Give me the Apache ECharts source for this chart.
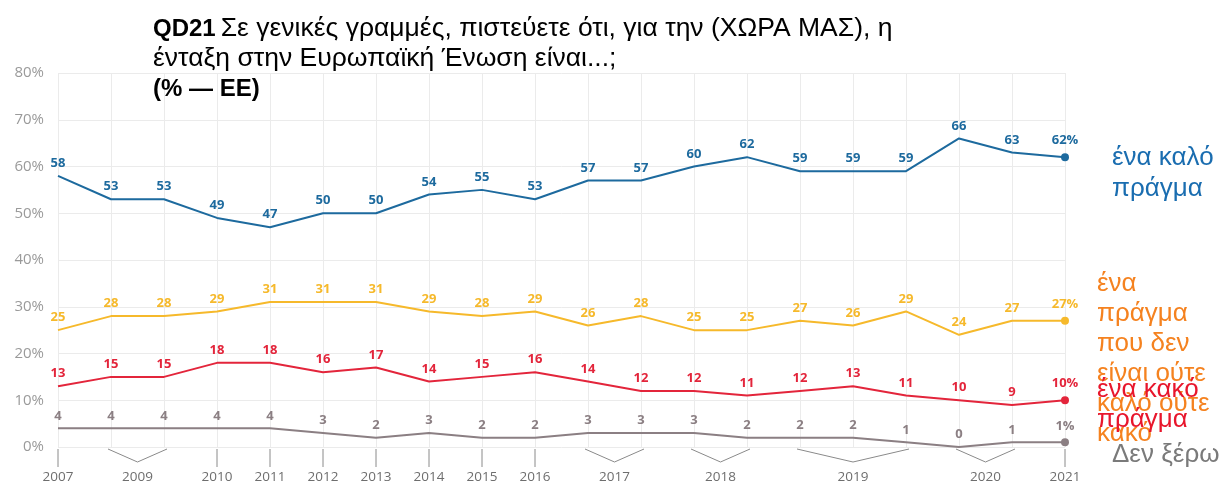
<!DOCTYPE html>
<html>
<head>
<meta charset="utf-8">
<script src="https://cdn.jsdelivr.net/npm/echarts@6/dist/echarts.min.js"></script>
<style>
  html, body { margin: 0; padding: 0; background: #fff; }
  #chart { width: 1224px; height: 483px; }
</style>
</head>
<body>
<div id="chart"></div>
<script>
// survey waves (x categories)
var waves = ['2007', '2009a', '2009b', '2010', '2011', '2012', '2013', '2014', '2015', '2016',
    '2017a', '2017b', '2018a', '2018b', '2019a', '2019b', '2019c', '2020a', '2020b', '2021'];
// year labels under the axis: [first wave, last wave, label]
var yearGroups = [[0, 0, '2007'], [1, 2, '2009'], [3, 3, '2010'], [4, 4, '2011'], [5, 5, '2012'],
    [6, 6, '2013'], [7, 7, '2014'], [8, 8, '2015'], [9, 9, '2016'], [10, 11, '2017'],
    [12, 13, '2018'], [14, 16, '2019'], [17, 18, '2020'], [19, 19, '2021']];

var good = [58, 53, 53, 49, 47, 50, 50, 54, 55, 53, 57, 57, 60, 62, 59, 59, 59, 66, 63, 62];
var neither = [25, 28, 28, 29, 31, 31, 31, 29, 28, 29, 26, 28, 25, 25, 27, 26, 29, 24, 27, 27];
var bad = [13, 15, 15, 18, 18, 16, 17, 14, 15, 16, 14, 12, 12, 11, 12, 13, 11, 10, 9, 10];
var dk = [4, 4, 4, 4, 4, 3, 2, 3, 2, 2, 3, 3, 3, 2, 2, 2, 1, 0, 1, 1];

var blue = '#1d6a9e';
var yellow = '#f6b92b';
var red = '#e3253b';
var grey = '#8b7f83';

var last = waves.length - 1;

function mkLine(name, data, color) {
    return {
        name: name,
        type: 'line',
        data: data,
        showSymbol: true,
        showAllSymbol: true,
        symbol: 'circle',
        symbolSize: function (v, p) { return p.dataIndex === last ? 8 : 0; },
        itemStyle: { color: color },
        lineStyle: { color: color, width: 2 },
        label: {
            show: true,
            position: 'top',
            distance: 6,
            color: color,
            fontFamily: 'Open Sans',
            fontWeight: 'bold',
            fontSize: 13,
            formatter: function (p) { return p.dataIndex === last ? p.value + '%' : p.value; }
        },
        z: 3
    };
}

var option = {
    animation: false,
    title: {
        left: 153,
        top: 14,
        padding: 0,
        text: '{b|QD21} {n|Σε γενικές γραμμές, πιστεύετε ότι, για την (ΧΩΡΑ ΜΑΣ), η}\n{n|ένταξη στην Ευρωπαϊκή Ένωση είναι...;}\n{b|(% — ΕΕ)}',
        textStyle: {
            fontWeight: 'normal',
            rich: {
                b: { fontFamily: 'Liberation Sans', fontWeight: 'bold', fontSize: 24, color: '#000', lineHeight: 30 },
                n: { fontFamily: 'Liberation Sans', fontWeight: 'normal', fontSize: 26.5, color: '#000', lineHeight: 30 }
            }
        }
    },
    grid: { left: 58, right: 159, top: 73, bottom: 36 },
    xAxis: {
        type: 'category',
        data: waves,
        boundaryGap: false,
        axisLine: { show: false },
        axisTick: { show: false },
        axisLabel: { show: false },
        splitLine: { show: true, lineStyle: { color: '#ebebeb', width: 1 } }
    },
    yAxis: {
        type: 'value',
        min: 0,
        max: 80,
        interval: 10,
        axisLine: { show: false },
        axisTick: { show: false },
        axisLabel: {
            formatter: '{value}%',
            color: '#9a9a9a',
            fontFamily: 'Open Sans',
            fontSize: 15,
            margin: 14
        },
        splitLine: { lineStyle: { color: '#ebebeb', width: 1 } }
    },
    series: [
        mkLine('ένα καλό πράγμα', good, blue),
        mkLine('ούτε καλό ούτε κακό', neither, yellow),
        mkLine('ένα κακό πράγμα', bad, red),
        mkLine('Δεν ξέρω', dk, grey),
        {
            type: 'custom',
            data: yearGroups,
            clip: false,
            silent: true,
            encode: { x: 0 },
            renderItem: function (params, api) {
                var g = yearGroups[params.dataIndex];
                var p0 = api.coord([g[0], 0]);
                var p1 = api.coord([g[1], 0]);
                var y = p0[1];
                var mid = (p0[0] + p1[0]) / 2;
                var mark;
                if (g[0] === g[1]) {
                    mark = { type: 'line', shape: { x1: mid, y1: y + 2, x2: mid, y2: y + 20 },
                        style: { stroke: '#8a8a8a', lineWidth: 1 } };
                } else {
                    mark = { type: 'polyline', shape: { points: [[p0[0] - 3, y + 2], [mid, y + 15], [p1[0] + 3, y + 2]] },
                        style: { stroke: '#8a8a8a', lineWidth: 1, fill: null } };
                }
                return {
                    type: 'group',
                    children: [mark, {
                        type: 'text',
                        style: {
                            text: g[2], x: mid, y: y + 30, align: 'center', verticalAlign: 'middle',
                            fill: '#6e6e6e', fontFamily: 'Open Sans', fontSize: 13.5
                        }
                    }]
                };
            }
        }
    ],
    graphic: [
        { type: 'text', left: 1112, top: 142, style: { text: 'ένα καλό\nπράγμα', fill: '#1a6db0', fontFamily: 'Liberation Sans', fontSize: 26, lineHeight: 31 } },
        { type: 'text', left: 1097, top: 269, style: { text: 'ένα\nπράγμα\nπου δεν\nείναι ούτε\nκαλό ούτε\nκακό', fill: '#f5821f', fontFamily: 'Liberation Sans', fontSize: 26, lineHeight: 30 } },
        { type: 'text', left: 1097, top: 375, style: { text: 'ένα κακό\nπράγμα', fill: '#e8162c', fontFamily: 'Liberation Sans', fontSize: 26, lineHeight: 30 } },
        { type: 'text', left: 1112, top: 440, style: { text: 'Δεν ξέρω', fill: '#7a7a7a', fontFamily: 'Liberation Sans', fontSize: 26, lineHeight: 30 } }
    ]
};

var myChart = echarts.init(document.getElementById('chart'));
myChart.setOption(option);
window.onresize = myChart.resize;
</script>
</body>
</html>
